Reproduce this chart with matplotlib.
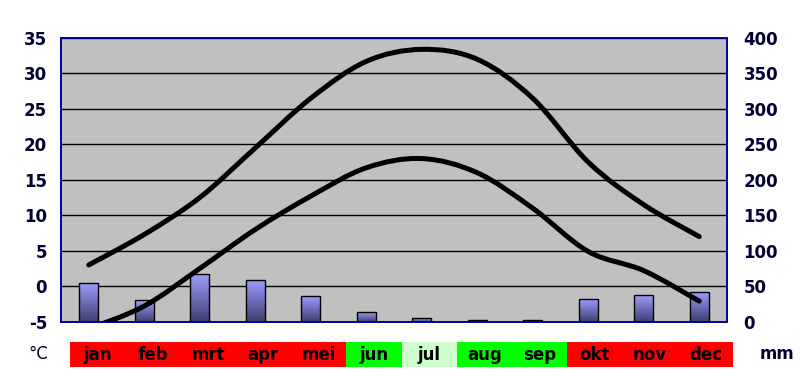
import numpy as np
import matplotlib
matplotlib.use("Agg")
import matplotlib.pyplot as plt
from matplotlib.path import Path
from matplotlib.patches import PathPatch
from matplotlib.colors import LinearSegmentedColormap

months = ['jan', 'feb', 'mrt', 'apr', 'mei', 'jun', 'jul', 'aug', 'sep', 'okt', 'nov', 'dec']
t_max = [3, 7.3, 12.5, 19.5, 26.5, 31.7, 33.4, 32, 26.5, 17.5, 11.5, 7]
t_min = [-6, -2.8, 2.5, 8, 12.7, 16.7, 18, 16, 11, 4.9, 2.2, -2.1]
precip = [54, 30, 67, 59, 36, 13, 5, 3, 3, 32, 38, 42]
month_colors = ['#FF0000'] * 5 + ['#00FF00', '#CCFFCC', '#00FF00', '#00FF00'] + ['#FF0000'] * 3

plt.rcParams['font.family'] = ['DejaVu Sans']
plt.rcParams['axes.unicode_minus'] = False
text_col = '#000033'


def smooth_path(xs, ys):
    # Excel-style smoothed line: cubic bezier through each point
    pts = np.column_stack([xs, ys]).astype(float)
    n = len(pts)
    verts = [pts[0]]
    codes = [Path.MOVETO]
    for i in range(n - 1):
        p0 = pts[max(i - 1, 0)]
        p1 = pts[i]
        p2 = pts[i + 1]
        p3 = pts[min(i + 2, n - 1)]
        c1 = p1 + (p2 - p0) / 6
        c2 = p2 - (p3 - p1) / 6
        verts += [c1, c2, p2]
        codes += [Path.CURVE4] * 3
    return Path(verts, codes)


fig = plt.figure(figsize=(8, 3.91), dpi=100)
ax = fig.add_axes([61 / 800, 1 - 321.7 / 391, 666 / 800, 283.7 / 391])
ax2 = ax.twinx()

x = np.arange(len(months))

# mm axis underneath: background, grid, bars
ax2.set_zorder(1)
ax.set_zorder(2)
ax.patch.set_visible(False)
ax2.patch.set_visible(True)
ax2.patch.set_facecolor('#C0C0C0')
ax2.set_yticks(range(0, 401, 50))
ax2.yaxis.grid(True, color='black', lw=1)
ax2.set_axisbelow(True)

cmap = LinearSegmentedColormap.from_list('bar', ['#3E3E70', '#9C9CFF'])
grad = np.linspace(0, 1, 100).reshape(-1, 1)
bars = ax2.bar(x, precip, width=0.34, facecolor='none', edgecolor='black', lw=1, zorder=3)
for b in bars:
    bx, by = b.get_x(), b.get_y()
    im = ax2.imshow(grad, cmap=cmap, origin='lower', aspect='auto', zorder=2.5,
                    extent=[bx, bx + b.get_width(), by, by + b.get_height()])
    im.set_clip_path(b)
ax2.set_xlim(-0.5, 11.5)
ax2.set_ylim(0, 400)

# temperature lines on top
ax.set_ylim(-5, 35)
ax.set_xlim(-0.5, 11.5)
ax.set_yticks(range(-5, 36, 5))
ax.set_xticks([])
for series in (t_max, t_min):
    ax.add_patch(PathPatch(smooth_path(x, series), facecolor='none', edgecolor='black',
                           lw=3.6, capstyle='round', zorder=3))

for a in (ax, ax2):
    for s in a.spines.values():
        s.set_color('#000099')
        s.set_linewidth(1.2)
    a.tick_params(length=0, labelsize=12, colors=text_col)
    for lab in a.get_yticklabels():
        lab.set_fontweight('bold')
ax.tick_params(axis='y', pad=10)
ax2.tick_params(axis='y', pad=12)

# month strip
strip = fig.add_axes([70 / 800, 1 - 366.7 / 391, 663 / 800, 24.4 / 391])
strip.bar(x, [1] * len(months), width=1, color=month_colors)
strip.set_xlim(-0.5, 11.5)
strip.set_ylim(0, 1)
strip.axis('off')
for i, m in enumerate(months):
    strip.text(i, 0.5, m, ha='center', va='center', fontsize=12, fontweight='bold', color='black')

fig.text(38 / 800, 1 - 354 / 391, '°C', ha='center', va='center', fontsize=12, color=text_col)
fig.text(777 / 800, 1 - 354 / 391, 'mm', ha='center', va='center', fontsize=12,
         fontweight='bold', color=text_col)

fig.savefig('out.png', dpi=100)
